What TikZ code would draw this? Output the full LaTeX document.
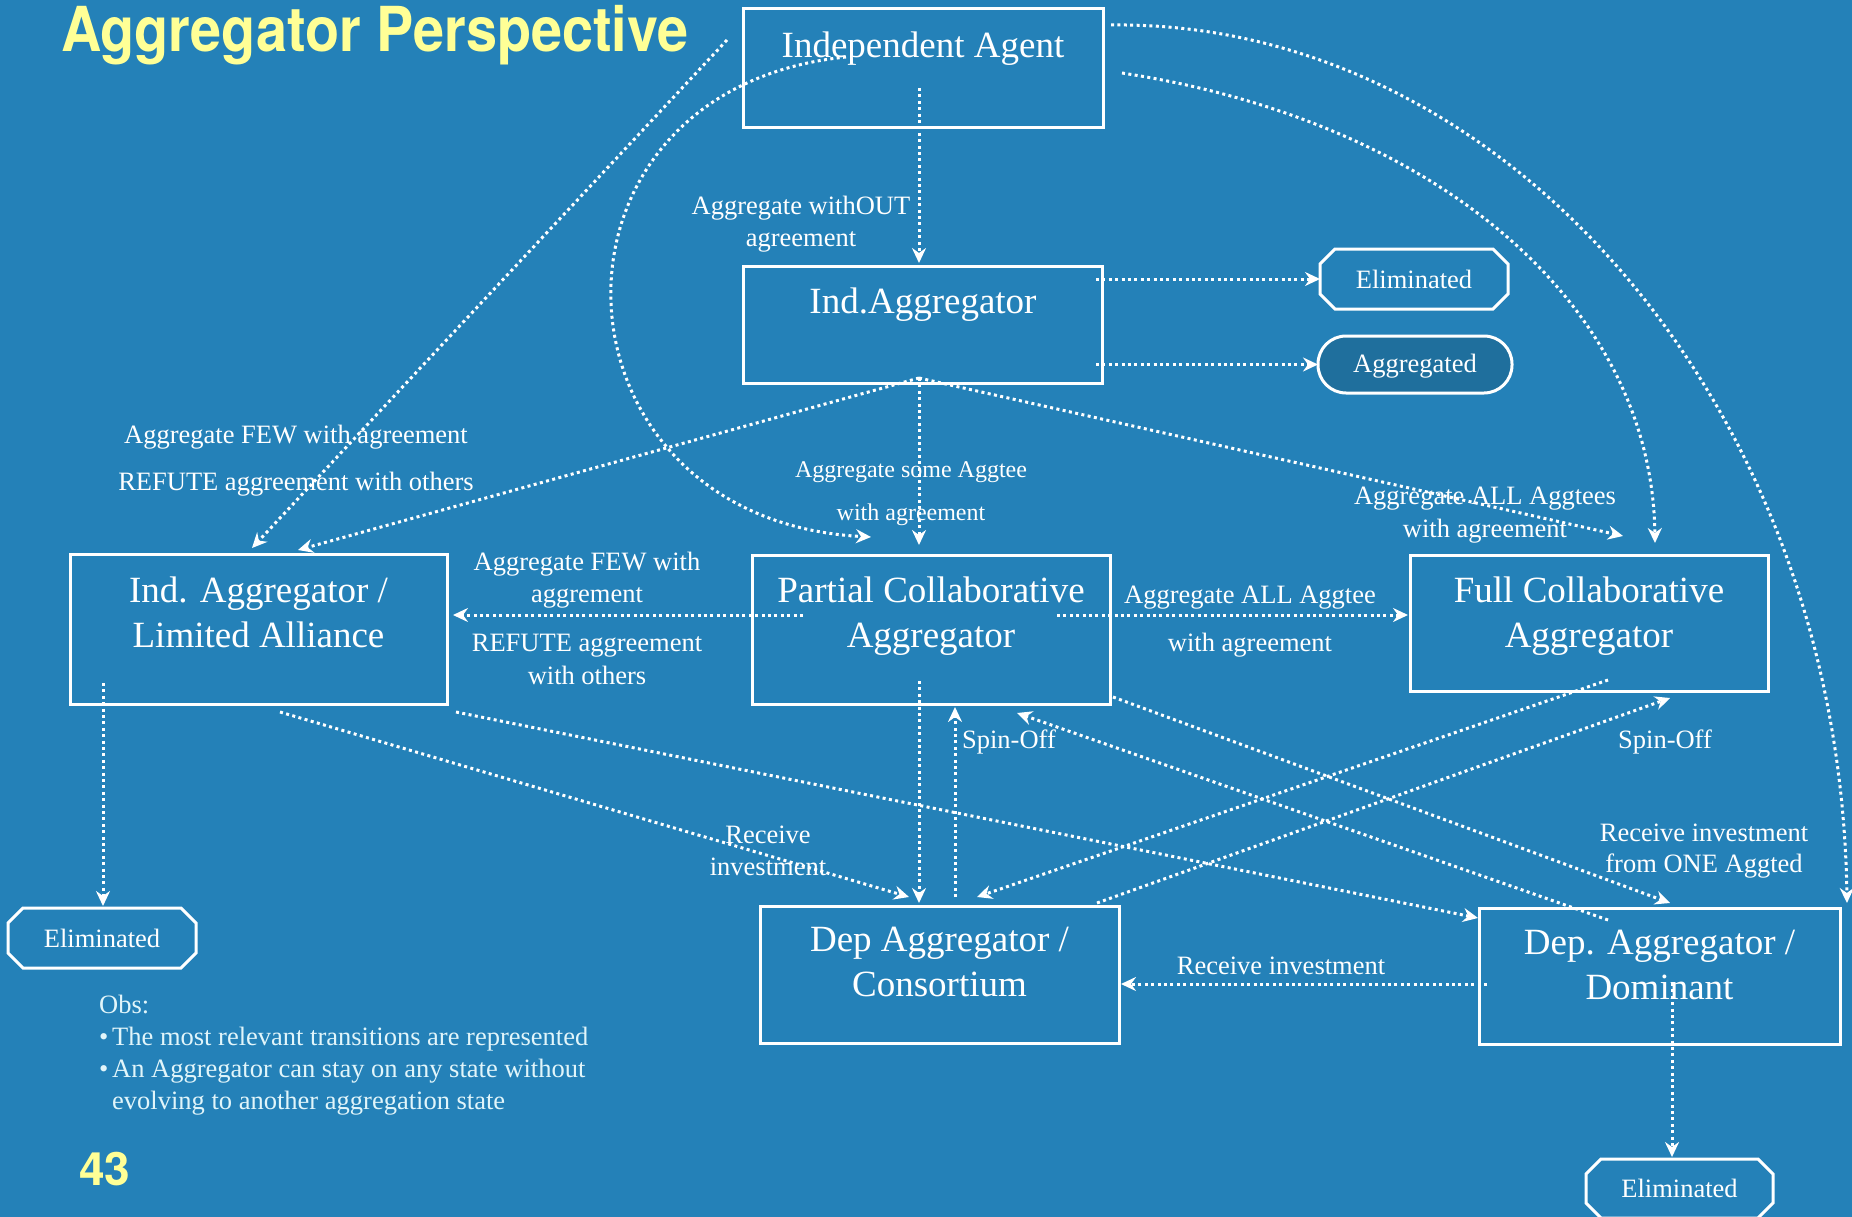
\documentclass[tikz,border=0pt]{standalone}
\usepackage{fontspec}
\setmainfont{Liberation Serif}
\newfontfamily\headfont[FakeStretch=0.9]{TeX Gyre Heros}
\newfontfamily\pagenofont{TeX Gyre Heros}
\usetikzlibrary{arrows.meta,calc}
\definecolor{slidebg}{RGB}{36,129,184}
\definecolor{termfill}{RGB}{31,111,157}
\definecolor{headyellow}{RGB}{255,255,150}
\definecolor{notecol}{RGB}{225,245,250}

\newcommand\octo[1]{%
  \draw[white,line width=3pt,line join=miter]
    ($(#1.north west)+(15,0)$) -- ($(#1.north east)+(-15,0)$) --
    ($(#1.north east)+(0,15)$) -- ($(#1.south east)+(0,-15)$) --
    ($(#1.south east)+(-15,0)$) -- ($(#1.south west)+(15,0)$) --
    ($(#1.south west)+(0,-15)$) -- ($(#1.north west)+(0,15)$) -- cycle;}

\begin{document}
\begin{tikzpicture}[x=1pt,y=-1pt,
  statebox/.style={draw=white,line width=3pt,inner sep=0pt,outer sep=0pt},
  boxtext/.style={text=white,inner sep=0pt,align=center,font=\fontsize{37}{45}\selectfont},
  term/.style={text=white,inner sep=0pt,outer sep=0pt,font=\fontsize{26.5}{32}\selectfont,
               minimum width=188pt,minimum height=60pt},
  lbl/.style={text=white,inner sep=0pt,align=center,font=\fontsize{26.5}{#1}\selectfont},
  lbl/.default=32,
  flow/.style={draw=white,line width=3pt,dash pattern=on 3pt off 3.4pt,
               -{Stealth[length=15pt,width=14pt,inset=5pt]}}]

\fill[slidebg] (0,0) rectangle (1852,1217);
\useasboundingbox (0,0) rectangle (1852,1217);

% heading, page number and notes
\node[anchor=base west,inner sep=0pt,text=headyellow,
      font=\headfont\bfseries\fontsize{62}{62}\selectfont] (title) at (61,52) {Aggregator Perspective};
\node[anchor=base west,inner sep=0pt,text=headyellow,
      font=\pagenofont\bfseries\fontsize{46}{46}\selectfont] (pageno) at (79,1185) {43};
\node[anchor=north west,inner sep=0pt,text=notecol,align=left,
      font=\fontsize{26.5}{32}\selectfont] (notes) at (99,995)
  {Obs:\\
   \makebox[13pt][l]{\textbullet}The most relevant transitions are represented\\
   \makebox[13pt][l]{\textbullet}An Aggregator can stay on any state without\\
   \hspace*{13pt}evolving to another aggregation state};

% aggregation states
\node[statebox,minimum width=360pt,minimum height=119pt] (ia)   at (923,68.5) {};
\node[statebox,minimum width=359pt,minimum height=117pt] (iagg) at (922.5,324.5) {};
\node[statebox,minimum width=377pt,minimum height=150pt] (lim)  at (258.5,629.5) {};
\node[statebox,minimum width=358pt,minimum height=149pt] (part) at (931,629.5) {};
\node[statebox,minimum width=358pt,minimum height=136pt] (full) at (1589,623) {};
\node[statebox,minimum width=359pt,minimum height=137pt] (cons) at (939.5,974.5) {};
\node[statebox,minimum width=361pt,minimum height=136pt] (dom)  at (1659.5,976) {};

\node[boxtext] (ia-t)   at (923,48.4)    {Independent Agent};
\node[boxtext] (iagg-t) at (923,304.4)   {Ind.Aggregator};
\node[boxtext] (lim-t)  at (258.5,612)   {Ind. Aggregator /\\Limited Alliance};
\node[boxtext] (part-t) at (931,616)     {Partial Collaborative\\Aggregator};
\node[boxtext] (full-t) at (1589,616)    {Full Collaborative\\Aggregator};
\node[boxtext] (cons-t) at (939.5,962.4) {Dep Aggregator /\\Consortium};
\node[boxtext] (dom-t)  at (1659.5,965)  {Dep. Aggregator /\\Dominant};

% terminal states
\node[term] (elim1) at (1414,279) {Eliminated};
\node[term,minimum width=194pt,minimum height=57pt,fill=termfill,draw=white,
      line width=3pt,rounded corners=28pt,text depth=3pt] (aggd) at (1415,364.5) {Aggregated};
\node[term] (elim2) at (102,938) {Eliminated};
\node[term,minimum width=187pt,minimum height=59pt] (elim3) at (1679.5,1188.5) {Eliminated};
\octo{elim1}
\octo{elim2}
\octo{elim3}

% transition labels
\node[lbl]     (l-wo)    at (801,224)    {Aggregate withOUT\\agreement};
\node[lbl=43,font=\fontsize{24}{43}\selectfont]
               (l-some)  at (911,493.5)  {Aggregate some Aggtee\\with agreement};
\node[lbl=47]  (l-few)   at (296,460.5)  {Aggregate FEW with agreement\\REFUTE aggreement with others};
\node[lbl]     (l-few2)  at (587,580)    {Aggregate FEW with\\aggrement};
\node[lbl=33]  (l-ref2)  at (587,659.5)  {REFUTE aggreement\\with others};
\node[lbl=48]  (l-all)   at (1250,622)   {Aggregate ALL Aggtee\\with agreement};
\node[lbl=33]  (l-alls)  at (1485,515.5) {Aggregate ALL Aggtees\\with agreement};
\node[lbl]     (l-spin1) at (1009,742)   {Spin-Off};
\node[lbl]     (l-spin2) at (1665,742)   {Spin-Off};
\node[lbl]     (l-rec1)  at (768,851)    {Receive\\investment};
\node[lbl=31]  (l-rec2)  at (1704,851.5) {Receive investment\\from ONE Aggted};
\node[lbl]     (l-rec3)  at (1281,966)   {Receive investment};

% attachment points
\coordinate (ia-dn)   at (919,88);
\coordinate (ia-c1)   at (846,57);
\coordinate (ia-c2)   at (1122,73);
\coordinate (ia-c3)   at (1111,25);
\coordinate (ia-sw)   at (727,40);
\coordinate (iagg-in) at (919,263);
\coordinate (iagg-r1) at (1096,279);
\coordinate (iagg-r2) at (1096,364.5);
\coordinate (iagg-b)  at (919,378);
\coordinate (lim-in1) at (252,548);
\coordinate (lim-in2) at (298,550);
\coordinate (lim-in3) at (453,615);
\coordinate (lim-b1)  at (103,683);
\coordinate (lim-b2)  at (280,712);
\coordinate (lim-b3)  at (456,712);
\coordinate (part-in1) at (871,537);
\coordinate (part-in2) at (919,545);
\coordinate (part-w)  at (803,615);
\coordinate (part-e)  at (1057,615);
\coordinate (part-b)  at (919,681);
\coordinate (part-se) at (1113,697);
\coordinate (part-in3) at (955,707);
\coordinate (part-in4) at (1017,713);
\coordinate (full-in1) at (1623,536);
\coordinate (full-in2) at (1655,543);
\coordinate (full-in3) at (1408,615);
\coordinate (full-in4) at (1670,698);
\coordinate (full-b)  at (1608,680);
\coordinate (cons-in1) at (909,897);
\coordinate (cons-in2) at (919,903);
\coordinate (cons-in3) at (977,897);
\coordinate (cons-in4) at (1121,984);
\coordinate (cons-t1) at (955,897);
\coordinate (cons-t2) at (1097,903);
\coordinate (dom-in1) at (1478,918);
\coordinate (dom-in2) at (1670,903);
\coordinate (dom-in3) at (1847,903);
\coordinate (dom-w)   at (1487,984);
\coordinate (dom-nw)  at (1608,920);
\coordinate (dom-b)   at (1672,983);
\coordinate (elim2-in) at (103,906);
\coordinate (elim3-in) at (1672,1157);

% transitions
\draw[flow] (ia-dn) -- (iagg-in);
\draw[flow] (iagg-r1) -- (elim1.west);
\draw[flow] (iagg-r2) -- (aggd.west);
\draw[flow] (iagg-b) -- (part-in2);
\draw[flow] (iagg-b) -- (lim-in2);
\draw[flow] (iagg-b) -- (full-in1);
\draw[flow] (ia-sw) -- (lim-in1);
\draw[flow] (ia-c1) .. controls (520,90) and (540,520) .. (part-in1);
\draw[flow] (ia-c2) .. controls (1430,120) and (1652,300) .. (full-in2);
\draw[flow] (ia-c3) .. controls (1500,20) and (1840,400) .. (dom-in3);
\draw[flow] (part-w) -- (lim-in3);
\draw[flow] (part-e) -- (full-in3);
\draw[flow] (part-b) -- (cons-in2);
\draw[flow] (cons-t1) -- (part-in3);
\draw[flow] (dom-nw) -- (part-in4);
\draw[flow] (part-se) -- (dom-in2);
\draw[flow] (full-b) -- (cons-in3);
\draw[flow] (cons-t2) -- (full-in4);
\draw[flow] (lim-b2) -- (cons-in1);
\draw[flow] (lim-b3) -- (dom-in1);
\draw[flow] (lim-b1) -- (elim2-in);
\draw[flow] (dom-w) -- (cons-in4);
\draw[flow] (dom-b) -- (elim3-in);
\end{tikzpicture}
\end{document}
